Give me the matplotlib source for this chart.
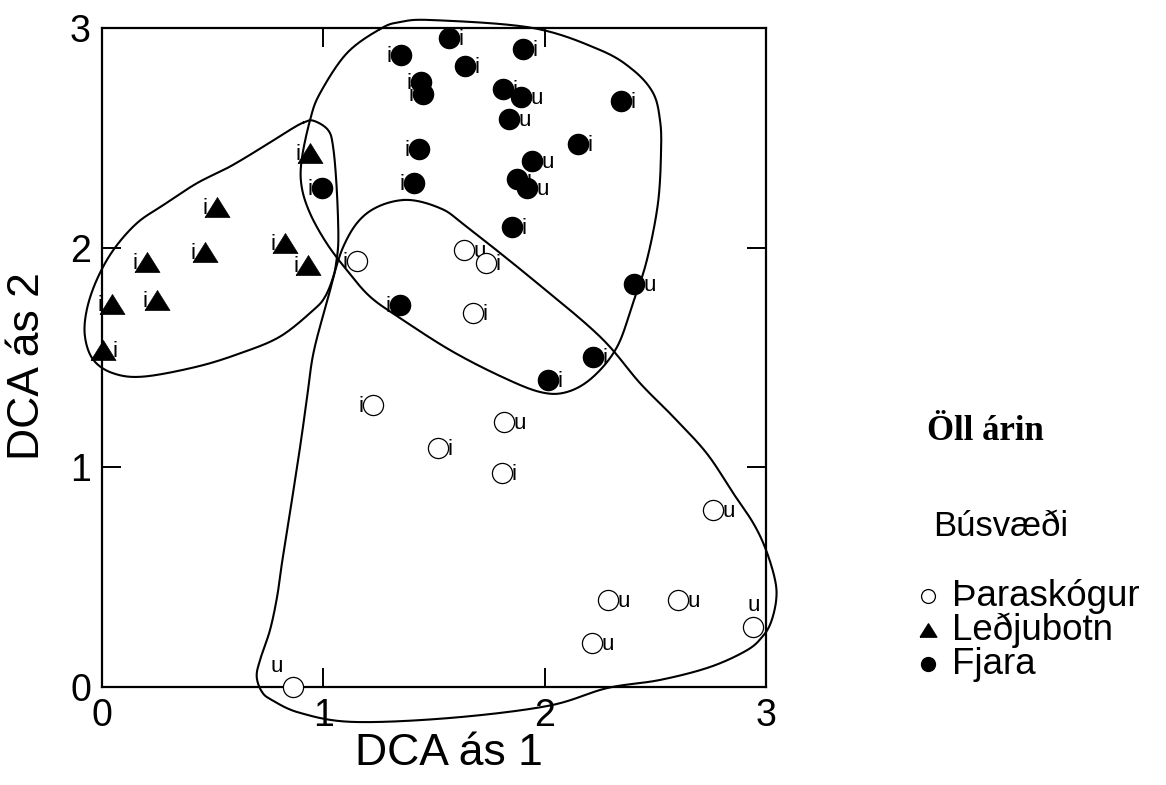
import numpy as np
import matplotlib
matplotlib.use("Agg")
import matplotlib.pyplot as plt
from matplotlib.lines import Line2D

# ---------------- data ----------------
# Þaraskógur (open circles)
thar_x = [1.151, 1.637, 1.735, 1.678, 1.226, 1.816, 1.519, 1.806, 2.761, 2.288, 2.604, 2.943, 2.215, 0.862]
thar_y = [1.941, 1.989, 1.929, 1.704, 1.284, 1.205, 1.087, 0.973, 0.806, 0.396, 0.396, 0.275, 0.199, 0.001]
thar_lab = ['i', 'u', 'i', 'i', 'i', 'u', 'i', 'i', 'u', 'u', 'u', 'u', 'u', 'u']
thar_pos = ['L', 'R', 'R', 'R', 'L', 'R', 'R', 'R', 'R', 'R', 'R', 'T', 'R', 'TL']

# Leðjubotn (triangles)
led_x = [0.940, 0.518, 0.827, 0.932, 0.465, 0.202, 0.247, 0.044, 0.006]
led_y = [2.430, 2.186, 2.020, 1.921, 1.982, 1.936, 1.762, 1.744, 1.534]
led_lab = ['i', 'i', 'i', 'i', 'i', 'i', 'i', 'i', 'i']
led_pos = ['L', 'L', 'L', 'L', 'L', 'L', 'L', 'L', 'R']

# Fjara (filled circles)
fja_x = [1.569, 1.901, 1.350, 1.640, 1.440, 1.452, 1.813, 1.892, 1.839, 2.345, 1.432,
         2.152, 1.944, 1.874, 1.919, 1.411, 1.854, 2.405, 1.346, 2.220, 2.016, 0.993]
fja_y = [2.953, 2.904, 2.877, 2.826, 2.753, 2.700, 2.722, 2.687, 2.586, 2.668, 2.448,
         2.472, 2.396, 2.313, 2.273, 2.293, 2.095, 1.835, 1.739, 1.501, 1.398, 2.270]
fja_lab = ['i', 'i', 'i', 'i', 'i', 'i', 'i', 'u', 'u', 'i', 'i',
           'i', 'u', 'i', 'u', 'i', 'i', 'u', 'i', 'i', 'i', 'i']
fja_pos = ['R', 'R', 'L', 'R', 'L', 'L', 'R', 'R', 'R', 'R', 'L',
           'R', 'R', 'R', 'R', 'L', 'R', 'R', 'L', 'R', 'R', 'L']

# envelope outlines (control points, data units)
hullA_x = [0.909, 0.955, 1.021, 1.044, 1.060, 1.068, 1.060, 1.045, 1.008, 0.955, 0.804, 0.624, 0.428,
           0.187, 0.051, -0.039, -0.077, -0.069, -0.024, 0.051, 0.157, 0.277, 0.428, 0.578, 0.729, 0.849]
hullA_y = [2.569, 2.578, 2.536, 2.460, 2.278, 2.050, 1.944, 1.868, 1.777, 1.716, 1.595, 1.519, 1.458,
           1.413, 1.428, 1.489, 1.595, 1.716, 1.853, 1.989, 2.111, 2.194, 2.293, 2.369, 2.460, 2.536]

hullB_x = [1.256, 1.106, 0.985, 0.940, 0.902, 0.902, 0.940, 1.015, 1.106, 1.211, 1.346, 1.572, 1.798,
           1.979, 2.101, 2.218, 2.327, 2.399, 2.462, 2.512, 2.526, 2.521, 2.490, 2.399, 2.250, 1.947,
           1.496, 1.346]
hullB_y = [2.995, 2.885, 2.703, 2.581, 2.399, 2.278, 2.156, 2.020, 1.898, 1.777, 1.680, 1.534, 1.416,
           1.343, 1.343, 1.411, 1.548, 1.748, 1.944, 2.203, 2.445, 2.581, 2.704, 2.809, 2.900, 3.000,
           3.036, 3.027]

hullC_x = [1.361, 1.527, 1.648, 1.949, 2.250, 2.431, 2.581, 2.732, 2.852, 2.943, 3.000, 3.041, 3.046,
           3.023, 2.986, 2.915, 2.747, 2.521, 2.282, 2.015, 1.572, 1.134, 0.895, 0.767, 0.722, 0.699,
           0.714, 0.759, 0.791, 0.813, 0.849, 0.895, 0.925, 0.955, 1.015, 1.090, 1.196]
hullC_y = [2.217, 2.180, 2.095, 1.853, 1.595, 1.383, 1.230, 1.064, 0.882, 0.745, 0.624, 0.487, 0.396,
           0.296, 0.232, 0.168, 0.091, 0.032, -0.005, -0.086, -0.141, -0.159, -0.118, -0.059, -0.021, 0.047,
           0.123, 0.259, 0.410, 0.564, 0.792, 1.093, 1.307, 1.519, 1.748, 2.004, 2.156]

group_names = ['Þaraskógur', 'Leðjubotn', 'Fjara']
x_ticks = [0, 1, 2, 3]
y_ticks = [0, 1, 2, 3]


def closed_spline(xs, ys, n=30):
    P = np.column_stack([xs, ys]).astype(float)
    N = len(P)
    t = np.linspace(0, 1, n, endpoint=False)[:, None]
    segs = []
    for i in range(N):
        p0, p1, p2, p3 = P[(i - 1) % N], P[i], P[(i + 1) % N], P[(i + 2) % N]
        seg = 0.5 * (2 * p1 + (-p0 + p2) * t + (2 * p0 - 5 * p1 + 4 * p2 - p3) * t ** 2
                     + (-p0 + 3 * p1 - 3 * p2 + p3) * t ** 3)
        segs.append(seg)
    segs.append(segs[0][:1])
    out = np.vstack(segs)
    return out[:, 0], out[:, 1]


plt.rcParams['font.family'] = ['Liberation Sans', 'DejaVu Sans']

fig = plt.figure(figsize=(11.66, 7.85), dpi=100)
ax = fig.add_axes([102 / 1166, 1 - 687 / 785, 664 / 1166, 659 / 785])
ax.set_xlim(0, 3)
ax.set_ylim(0, 3)

# envelopes
for hx, hy in [(hullA_x, hullA_y), (hullB_x, hullB_y), (hullC_x, hullC_y)]:
    sx, sy = closed_spline(hx, hy)
    ax.plot(sx, sy, color='black', lw=1.5, clip_on=False, zorder=1)

tri = [(-1, -0.8), (1, -0.8), (0, 0.8), (-1, -0.8)]

ax.plot(thar_x, thar_y, linestyle='none', marker='o', ms=14.5, mfc='white', mec='black',
        mew=0.9, clip_on=False, zorder=3)
ax.plot(led_x, led_y, linestyle='none', marker=tri, ms=18, mfc='black', mec='black',
        mew=0.5, clip_on=False, zorder=3)
ax.plot(fja_x, fja_y, linestyle='none', marker='o', ms=14.5, mfc='black', mec='black',
        clip_on=False, zorder=3)

offsets = {'L': ((-6.8, -1), 'right', 'center'),
           'R': ((6.8, -1), 'left', 'center'),
           'T': ((0, 15), 'center', 'center'),
           'TL': ((-11.5, 14.5), 'center', 'center')}


def put_labels(xs, ys, labs, poss):
    for x, y, lab, pos in zip(xs, ys, labs, poss):
        off, ha, va = offsets[pos]
        ax.annotate(lab, (x, y), xytext=off, textcoords='offset points', ha=ha, va=va,
                    fontsize=16, zorder=2, annotation_clip=False)


put_labels(thar_x, thar_y, thar_lab, thar_pos)
put_labels(led_x, led_y, led_lab, led_pos)
put_labels(fja_x, fja_y, fja_lab, fja_pos)

# axes styling
for s in ax.spines.values():
    s.set_linewidth(1.6)
ax.set_xticks(x_ticks)
ax.set_yticks(y_ticks)
ax.tick_params(direction='in', length=14, width=1.4, top=True, right=True,
               labelsize=27, pad=8)
ax.set_xlabel('DCA ás 1', fontsize=32)
ax.set_ylabel('DCA ás 2', fontsize=32)
ax.xaxis.set_label_coords((449 - 102) / 664, (687 - 733) / 659)
ax.yaxis.set_label_coords((48 - 102) / 664, (687 - 366) / 659)

# right-hand title and legend
fig.text(985 / 1166, 1 - 432 / 785, 'Öll árin', fontsize=25, fontweight='bold',
         family=['Liberation Serif', 'DejaVu Serif'], ha='center', va='center')
fig.text(933 / 1166, 1 - 527 / 785, 'Búsvæði', fontsize=25, ha='left', va='center')

leg_rows = [596, 630, 664]
leg_markers = [dict(marker='o', ms=10, mfc='white', mec='black', mew=0.9),
               dict(marker=tri, ms=12, mfc='black', mec='black'),
               dict(marker='o', ms=10, mfc='black', mec='black')]
for name, ypx, mk in zip(group_names, leg_rows, leg_markers):
    fy = 1 - ypx / 785
    fig.add_artist(Line2D([928 / 1166], [fy], transform=fig.transFigure, linestyle='none', **mk))
    fig.text(952 / 1166, fy, name, fontsize=26.5, ha='left', va='center')

fig.savefig('out.png', dpi=100)
